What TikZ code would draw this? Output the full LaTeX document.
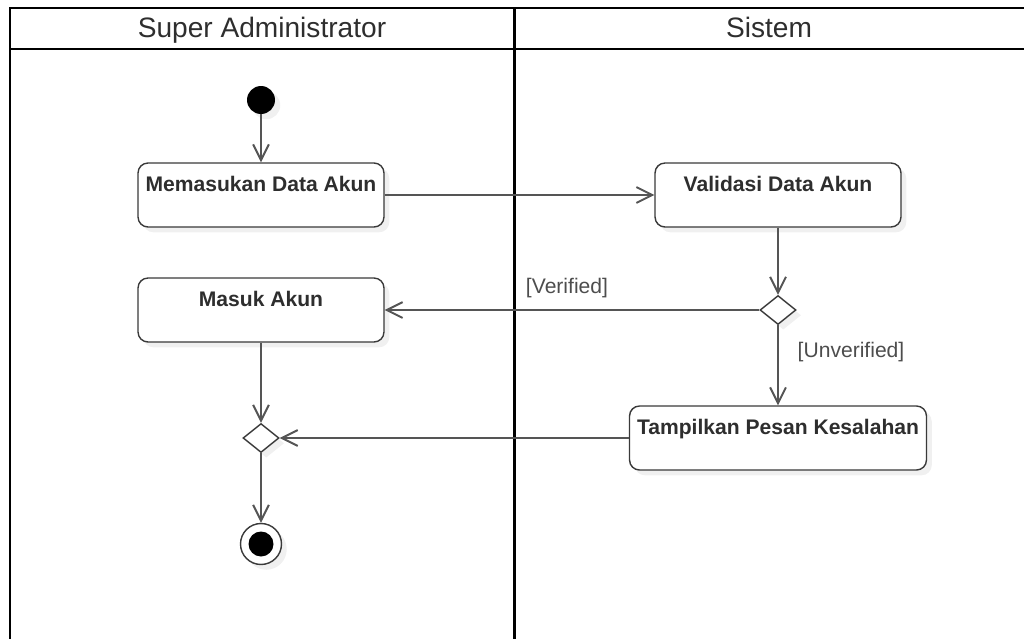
\documentclass[tikz,border=0pt]{standalone}
\usepackage{fontspec}
\setmainfont{Liberation Sans}
\usetikzlibrary{arrows.meta,shapes.geometric,shadows}
\definecolor{linegray}{HTML}{555555}
\definecolor{boxgray}{HTML}{3A3A3A}
\definecolor{txtgray}{HTML}{2E2E2E}
\begin{document}
\begin{tikzpicture}[x=0.02cm,y=-0.02cm,
    softshadow/.style={drop shadow={opacity=0.12,shadow xshift=3pt,shadow yshift=-3pt}},
    action/.style={draw=boxgray,line width=0.8pt,rounded corners=0.2cm,fill=white,softshadow,
      minimum width=4.92cm,inner sep=0pt,text height=0.56cm,text depth=0.72cm,
      font=\bfseries\fontsize{12}{14}\selectfont,text=txtgray},
    choice/.style={diamond,draw=boxgray,line width=0.8pt,fill=white,softshadow,inner sep=0pt,
      minimum width=0.72cm,minimum height=0.58cm},
    flow/.style={draw=linegray,line width=1.1pt,-{Straight Barb[length=9pt,width=9pt]}},
    lane/.style={line width=1.7pt},
    guard/.style={text=txtgray!85,font=\fontsize{12}{14}\selectfont},
    head/.style={anchor=base,text=txtgray,font=\fontsize{16}{19}\selectfont}]
  \useasboundingbox (0,0) rectangle (1024,639);
  \draw[lane] (1024,8) -- (10,8) -- (10,639);
  \draw[lane] (10,49) -- (1024,49);
  \draw[lane] (514,8) -- (514,639);
  \node[head] (admin) at (262,37) {Super Administrator};
  \node[head] (sistem) at (769,37) {Sistem};

  \node[circle,fill=black,minimum size=0.56cm,inner sep=0pt,softshadow] (start) at (261,100) {};
  \node[action] (masukan) at (261,195) {Memasukan Data Akun};
  \node[action] (validasi) at (778,195) {Validasi Data Akun};
  \node[choice] (cek) at (778,310) {};
  \node[action] (masuk) at (261,310) {Masuk Akun};
  \node[action,minimum width=5.94cm] (tampil) at (778,438) {Tampilkan Pesan Kesalahan};
  \node[choice] (gabung) at (261,438) {};
  \node[circle,draw=boxgray,line width=0.8pt,fill=white,minimum size=0.82cm,inner sep=0pt,softshadow,
    path picture={\fill[black] (path picture bounding box.center) circle (0.25cm);}] (akhir) at (261,544) {};
  \node[guard] (verified) at (567,288) {[Verified]};
  \node[guard] (unverified) at (851,352) {[Unverified]};

  \draw[flow] (start) -- (masukan);
  \draw[flow] (masukan) -- (validasi);
  \draw[flow] (validasi) -- (cek);
  \draw[flow] (cek) -- (masuk);
  \draw[flow] (cek) -- (tampil);
  \draw[flow] (masuk) -- (gabung);
  \draw[flow] (tampil) -- (gabung);
  \draw[flow] (gabung) -- (akhir);
\end{tikzpicture}
\end{document}
